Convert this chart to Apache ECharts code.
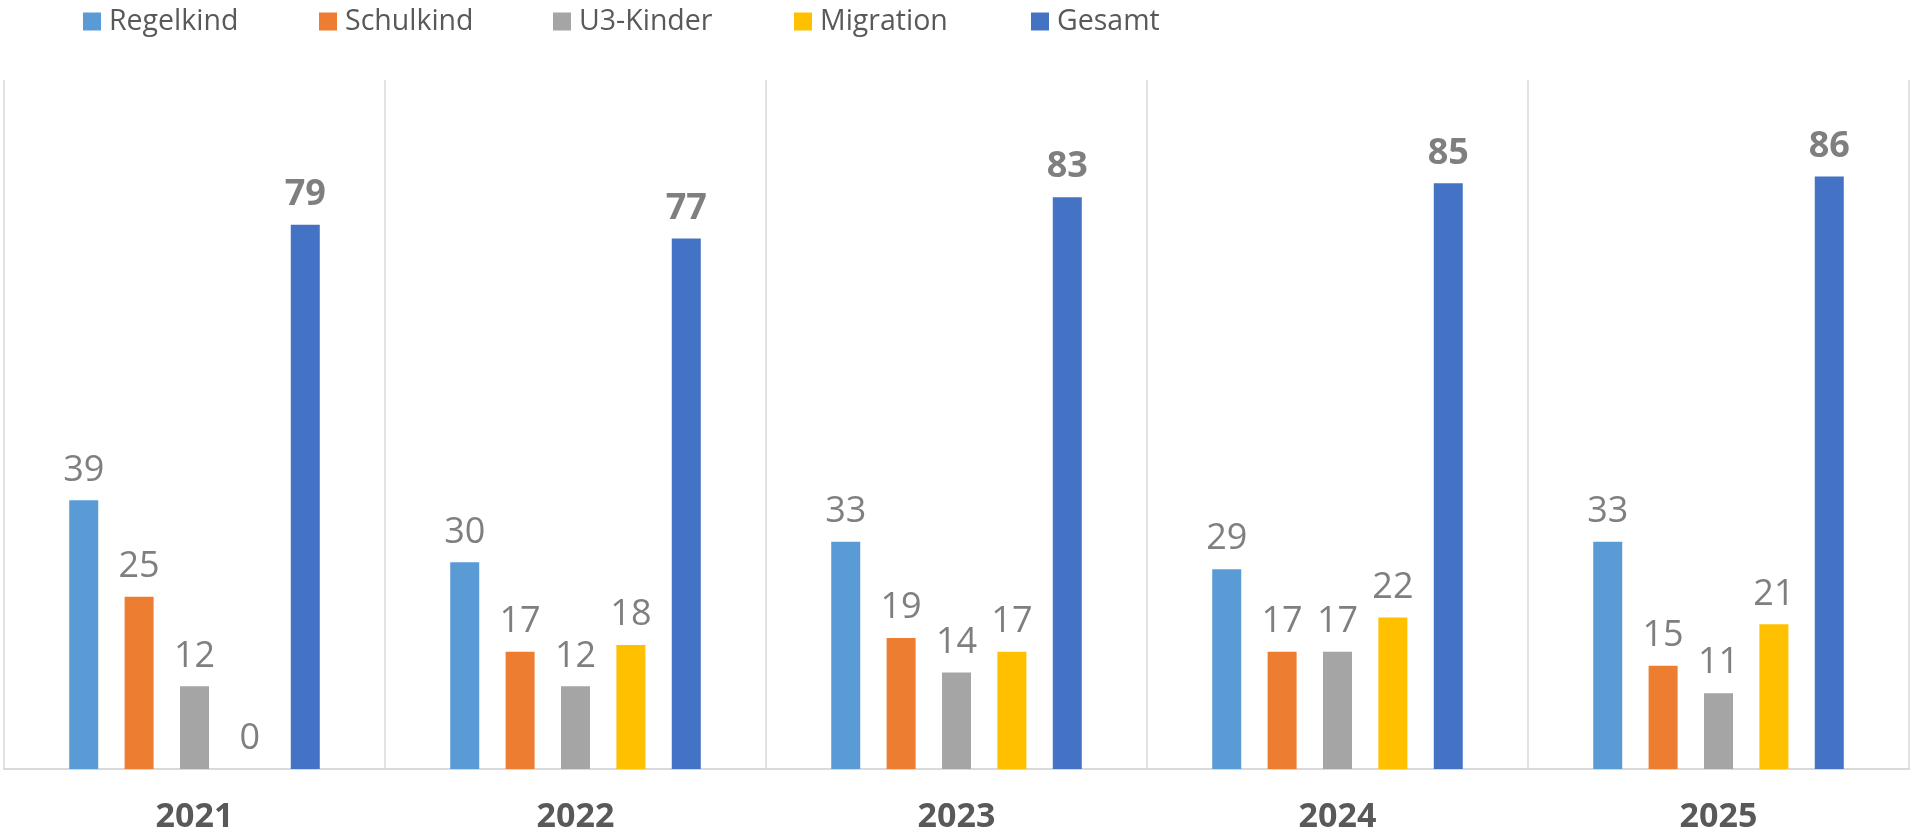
<!DOCTYPE html>
<html>
<head>
<meta charset="utf-8">
<script src="https://cdn.jsdelivr.net/npm/echarts@6/dist/echarts.min.js"></script>
<style>
  html, body { margin: 0; padding: 0; background: #ffffff; }
  #main { width: 1911px; height: 835px; }
</style>
</head>
<body>
<div id="main"></div>
<script>
var years = ['2021', '2022', '2023', '2024', '2025'];
var seriesNames = ['Regelkind', 'Schulkind', 'U3-Kinder', 'Migration', 'Gesamt'];
var regelkind = [39, 30, 33, 29, 33];
var schulkind = [25, 17, 19, 17, 15];
var u3Kinder = [12, 12, 14, 17, 11];
var migration = [0, 18, 17, 22, 21];
var gesamt = [79, 77, 83, 85, 86];

var colors = ['#5B9BD5', '#ED7D31', '#A5A5A5', '#FFC000', '#4472C4'];
var legendLeft = [83, 319, 553, 794, 1031];

var chart = echarts.init(document.getElementById('main'));

// label style shared by the bars
var smallLabel = {
  show: true,
  position: 'top',
  distance: 12,
  color: '#7f7f7f',
  fontFamily: 'Open Sans',
  fontSize: 36
};

function barSeries(i, data, label) {
  return {
    name: seriesNames[i],
    type: 'bar',
    data: data,
    barWidth: 29,
    barGap: '91%',
    itemStyle: { color: colors[i] },
    label: label
  };
}

// one legend per item so they sit at the same spots as the original
var legends = seriesNames.map(function (name, i) {
  return {
    left: legendLeft[i],
    top: 7,
    padding: 0,
    itemWidth: 18,
    itemHeight: 18,
    icon: 'rect',
    selectedMode: false,
    textStyle: {
      color: '#595959',
      fontFamily: 'Open Sans',
      fontSize: 28.5,
      padding: [0, 0, 0, 3]
    },
    data: [name]
  };
});

var option = {
  backgroundColor: '#ffffff',
  animation: false,
  legend: legends,
  grid: {
    left: 4,
    right: 2,
    top: 80,
    bottom: 66
  },
  xAxis: {
    type: 'category',
    data: years,
    axisTick: { show: false },
    axisLine: { lineStyle: { color: '#d9d9d9', width: 2 } },
    splitLine: { show: true, lineStyle: { color: '#d9d9d9', width: 1.5 } },
    axisLabel: {
      margin: 31,
      color: '#595959',
      fontWeight: 'bold',
      fontFamily: 'Open Sans',
      fontSize: 34
    }
  },
  yAxis: {
    type: 'value',
    min: 0,
    max: 100,
    show: false,
    splitLine: { show: false }
  },
  series: [
    barSeries(0, regelkind, smallLabel),
    barSeries(1, schulkind, smallLabel),
    barSeries(2, u3Kinder, smallLabel),
    barSeries(3, migration, smallLabel),
    barSeries(4, gesamt, Object.assign({}, smallLabel, { fontWeight: 'bold' }))
  ]
};

chart.setOption(option);
</script>
</body>
</html>
